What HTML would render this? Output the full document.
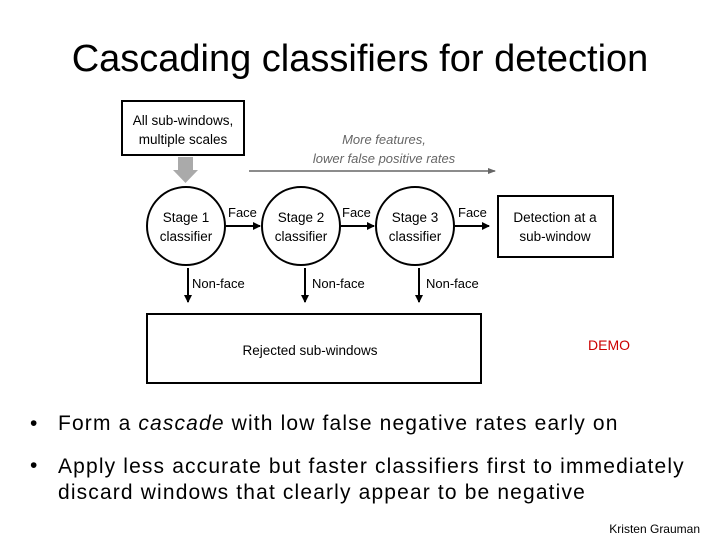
<!DOCTYPE html>
<html><head><style>
body{margin:0;width:720px;height:540px;background:#fff;overflow:hidden;position:relative;font-family:"Liberation Sans",sans-serif}
.t{position:absolute;white-space:nowrap}
.b{font-size:21px;letter-spacing:1.15px;left:58px}
.d{font-size:21px;left:30px}
</style></head><body>
<div class="t" style="left:0;width:720px;text-align:center;top:38px;font-size:38px;color:#000">Cascading classifiers for detection</div>
<svg width="720" height="540" style="position:absolute;left:0;top:0" font-family="Liberation Sans, sans-serif">
<defs>
<marker id="a" markerWidth="8" markerHeight="8" refX="7" refY="4" orient="auto" markerUnits="userSpaceOnUse"><path d="M0,0 L8,4 L0,8 Z" fill="#000"/></marker>
<marker id="g" markerWidth="8" markerHeight="8" refX="7" refY="4" orient="auto" markerUnits="userSpaceOnUse"><path d="M0,1 L8,4 L0,7 Z" fill="#666"/></marker>
</defs>
<rect x="122" y="101" width="122" height="54" fill="none" stroke="#000" stroke-width="2"/>
<text x="183" y="125" font-size="13.5" text-anchor="middle">All sub-windows,</text>
<text x="183" y="144" font-size="13.5" text-anchor="middle">multiple scales</text>
<path d="M178,157 H193 V170 H198 L185.5,183 L173,170 H178 Z" fill="#aaa"/>
<line x1="249" y1="171" x2="495" y2="171" stroke="#666" stroke-width="1.5" marker-end="url(#g)"/>
<text x="384" y="144" font-size="13" fill="#666" font-style="italic" text-anchor="middle">More features,</text>
<text x="384" y="163" font-size="13" fill="#666" font-style="italic" text-anchor="middle">lower false positive rates</text>
<g fill="none" stroke="#000" stroke-width="2">
<circle cx="186" cy="226" r="39"/><circle cx="301" cy="226" r="39"/><circle cx="415" cy="226" r="39"/>
<rect x="498" y="196" width="115" height="61"/>
<rect x="147" y="314" width="334" height="69"/>
</g>
<g stroke="#000" stroke-width="2">
<line x1="226" y1="226" x2="260" y2="226" marker-end="url(#a)"/>
<line x1="341" y1="226" x2="374" y2="226" marker-end="url(#a)"/>
<line x1="455" y1="226" x2="489" y2="226" marker-end="url(#a)"/>
<line x1="188" y1="268" x2="188" y2="302" marker-end="url(#a)"/>
<line x1="305" y1="268" x2="305" y2="302" marker-end="url(#a)"/>
<line x1="419" y1="268" x2="419" y2="302" marker-end="url(#a)"/>
</g>
<g font-size="13.5" text-anchor="middle">
<text x="186" y="222">Stage 1</text><text x="186" y="241">classifier</text>
<text x="301" y="222">Stage 2</text><text x="301" y="241">classifier</text>
<text x="415" y="222">Stage 3</text><text x="415" y="241">classifier</text>
<text x="555" y="222">Detection at a</text><text x="555" y="241">sub-window</text>
<text x="310" y="355">Rejected sub-windows</text>
</g>
<g font-size="13">
<text x="228" y="217">Face</text><text x="342" y="217">Face</text><text x="458" y="217">Face</text>
<text x="192" y="288">Non-face</text><text x="312" y="288">Non-face</text><text x="426" y="288">Non-face</text>
</g>
<text x="588" y="350" font-size="14" fill="#c00">DEMO</text>
</svg>
<div class="t d" style="top:412px">•</div>
<div class="t b" style="top:412px">Form a <i>cascade</i> with low false negative rates early on</div>
<div class="t d" style="top:454px">•</div>
<div class="t b" style="top:454px;line-height:26px">Apply less accurate but faster classifiers first to immediately<br>discard windows that clearly appear to be negative</div>
<div class="t" style="right:20px;top:522px;font-size:12px">Kristen Grauman</div>
</body></html>
